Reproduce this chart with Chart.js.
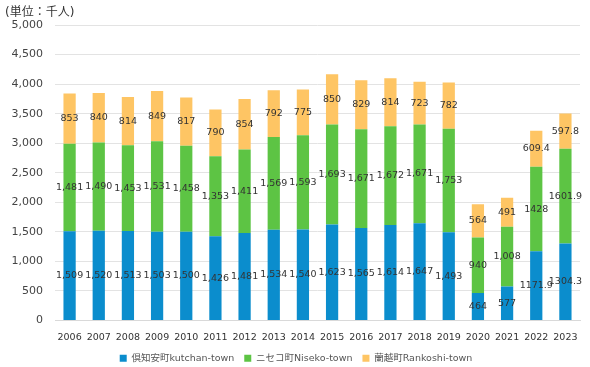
<!DOCTYPE html>
<html>
<head>
<meta charset="utf-8">
<script src="https://cdn.jsdelivr.net/npm/chart.js@4/dist/chart.umd.min.js"></script>
<style>
  html, body { margin: 0; padding: 0; background: #fff; }
  #wrap { width: 590px; height: 367px; position: relative; }
</style>
</head>
<body>
<div id="wrap"><canvas id="chart"></canvas></div>
<script>
// data (thousand persons)
const years = ['2006', '2007', '2008', '2009', '2010', '2011', '2012', '2013', '2014',
  '2015', '2016', '2017', '2018', '2019', '2020', '2021', '2022', '2023'];
const kutchan = [1509, 1520, 1513, 1503, 1500, 1426, 1481, 1534, 1540,
  1623, 1565, 1614, 1647, 1493, 464, 577, 1171.9, 1304.3];
const niseko = [1481, 1490, 1453, 1531, 1458, 1353, 1411, 1569, 1593,
  1693, 1671, 1672, 1671, 1753, 940, 1008, 1428, 1601.9];
const rankoshi = [853, 840, 814, 849, 817, 790, 854, 792, 775,
  850, 829, 814, 723, 782, 564, 491, 609.4, 597.8];
const seriesNames = ['倶知安町kutchan-town', 'ニセコ町Niseko-town', '蘭越町Rankoshi-town'];
const yTicks = [0, 500, 1000, 1500, 2000, 2500, 3000, 3500, 4000, 4500, 5000];
const unitText = '(単位：千人)';

const FONT = "'DejaVu Sans', 'Noto Sans CJK JP', sans-serif";
const colors = ['#0b8dcd', '#5dc444', '#fec564'];

// last two years are shown without thousands separator in the source
function fmt(v, i) {
  return i >= 16 ? String(v) : v.toLocaleString('en-US');
}

// draws the value in the middle of every stacked segment
const segLabels = {
  id: 'segLabels',
  afterDatasetsDraw(chart) {
    const ctx = chart.ctx;
    ctx.save();
    ctx.font = '9.5px ' + FONT;
    ctx.fillStyle = '#333';
    ctx.textAlign = 'center';
    ctx.textBaseline = 'middle';
    chart.data.datasets.forEach((ds, di) => {
      const meta = chart.getDatasetMeta(di);
      meta.data.forEach((bar, i) => {
        const mid = (bar.y + bar.base) / 2;
        ctx.fillText(fmt(ds.data[i], i), bar.x, mid);
      });
    });
    ctx.restore();
  },
};

// unit caption in the top-left corner
const unitLabel = {
  id: 'unitLabel',
  afterDraw(chart) {
    const ctx = chart.ctx;
    ctx.save();
    ctx.font = '12px ' + FONT;
    ctx.fillStyle = '#333';
    ctx.textAlign = 'left';
    ctx.textBaseline = 'middle';
    ctx.fillText(unitText, 5, 13);
    ctx.restore();
  },
};

new Chart(document.getElementById('chart'), {
  type: 'bar',
  data: {
    labels: years,
    datasets: [kutchan, niseko, rankoshi].map((d, k) => ({
      label: seriesNames[k],
      data: d,
      backgroundColor: colors[k],
      barPercentage: 0.42,
      categoryPercentage: 1.0,
    })),
  },
  options: {
    responsive: true,
    maintainAspectRatio: false,
    animation: false,
    layout: { padding: { left: 12, right: 10, top: 25, bottom: -6 } },
    scales: {
      x: {
        stacked: true,
        grid: { display: false, drawTicks: false, tickLength: 0 },
        border: { color: '#d9d9d9' },
        ticks: { color: '#333', font: { family: FONT, size: 9.5 }, maxRotation: 0, autoSkip: false, padding: 11 },
        afterFit: (axis) => { axis.height = 23; },
      },
      y: {
        stacked: true,
        min: 0,
        max: 5000,
        afterBuildTicks: (axis) => { axis.ticks = yTicks.map((v) => ({ value: v })); },
        afterFit: (axis) => { axis.width = 43; },
        grid: { color: '#e3e3e3', drawTicks: false },
        border: { display: false },
        ticks: {
          color: '#444',
          font: { family: FONT, size: 11 },
          padding: 12,
          callback: (v) => v.toLocaleString('en-US'),
        },
      },
    },
    plugins: {
      legend: {
        position: 'bottom',
        labels: {
          color: '#555',
          font: { family: FONT, size: 9.5 },
          boxWidth: 7,
          boxHeight: 7,
          padding: 10,
        },
      },
      tooltip: { enabled: false },
    },
  },
  plugins: [segLabels, unitLabel],
});
</script>
</body>
</html>
